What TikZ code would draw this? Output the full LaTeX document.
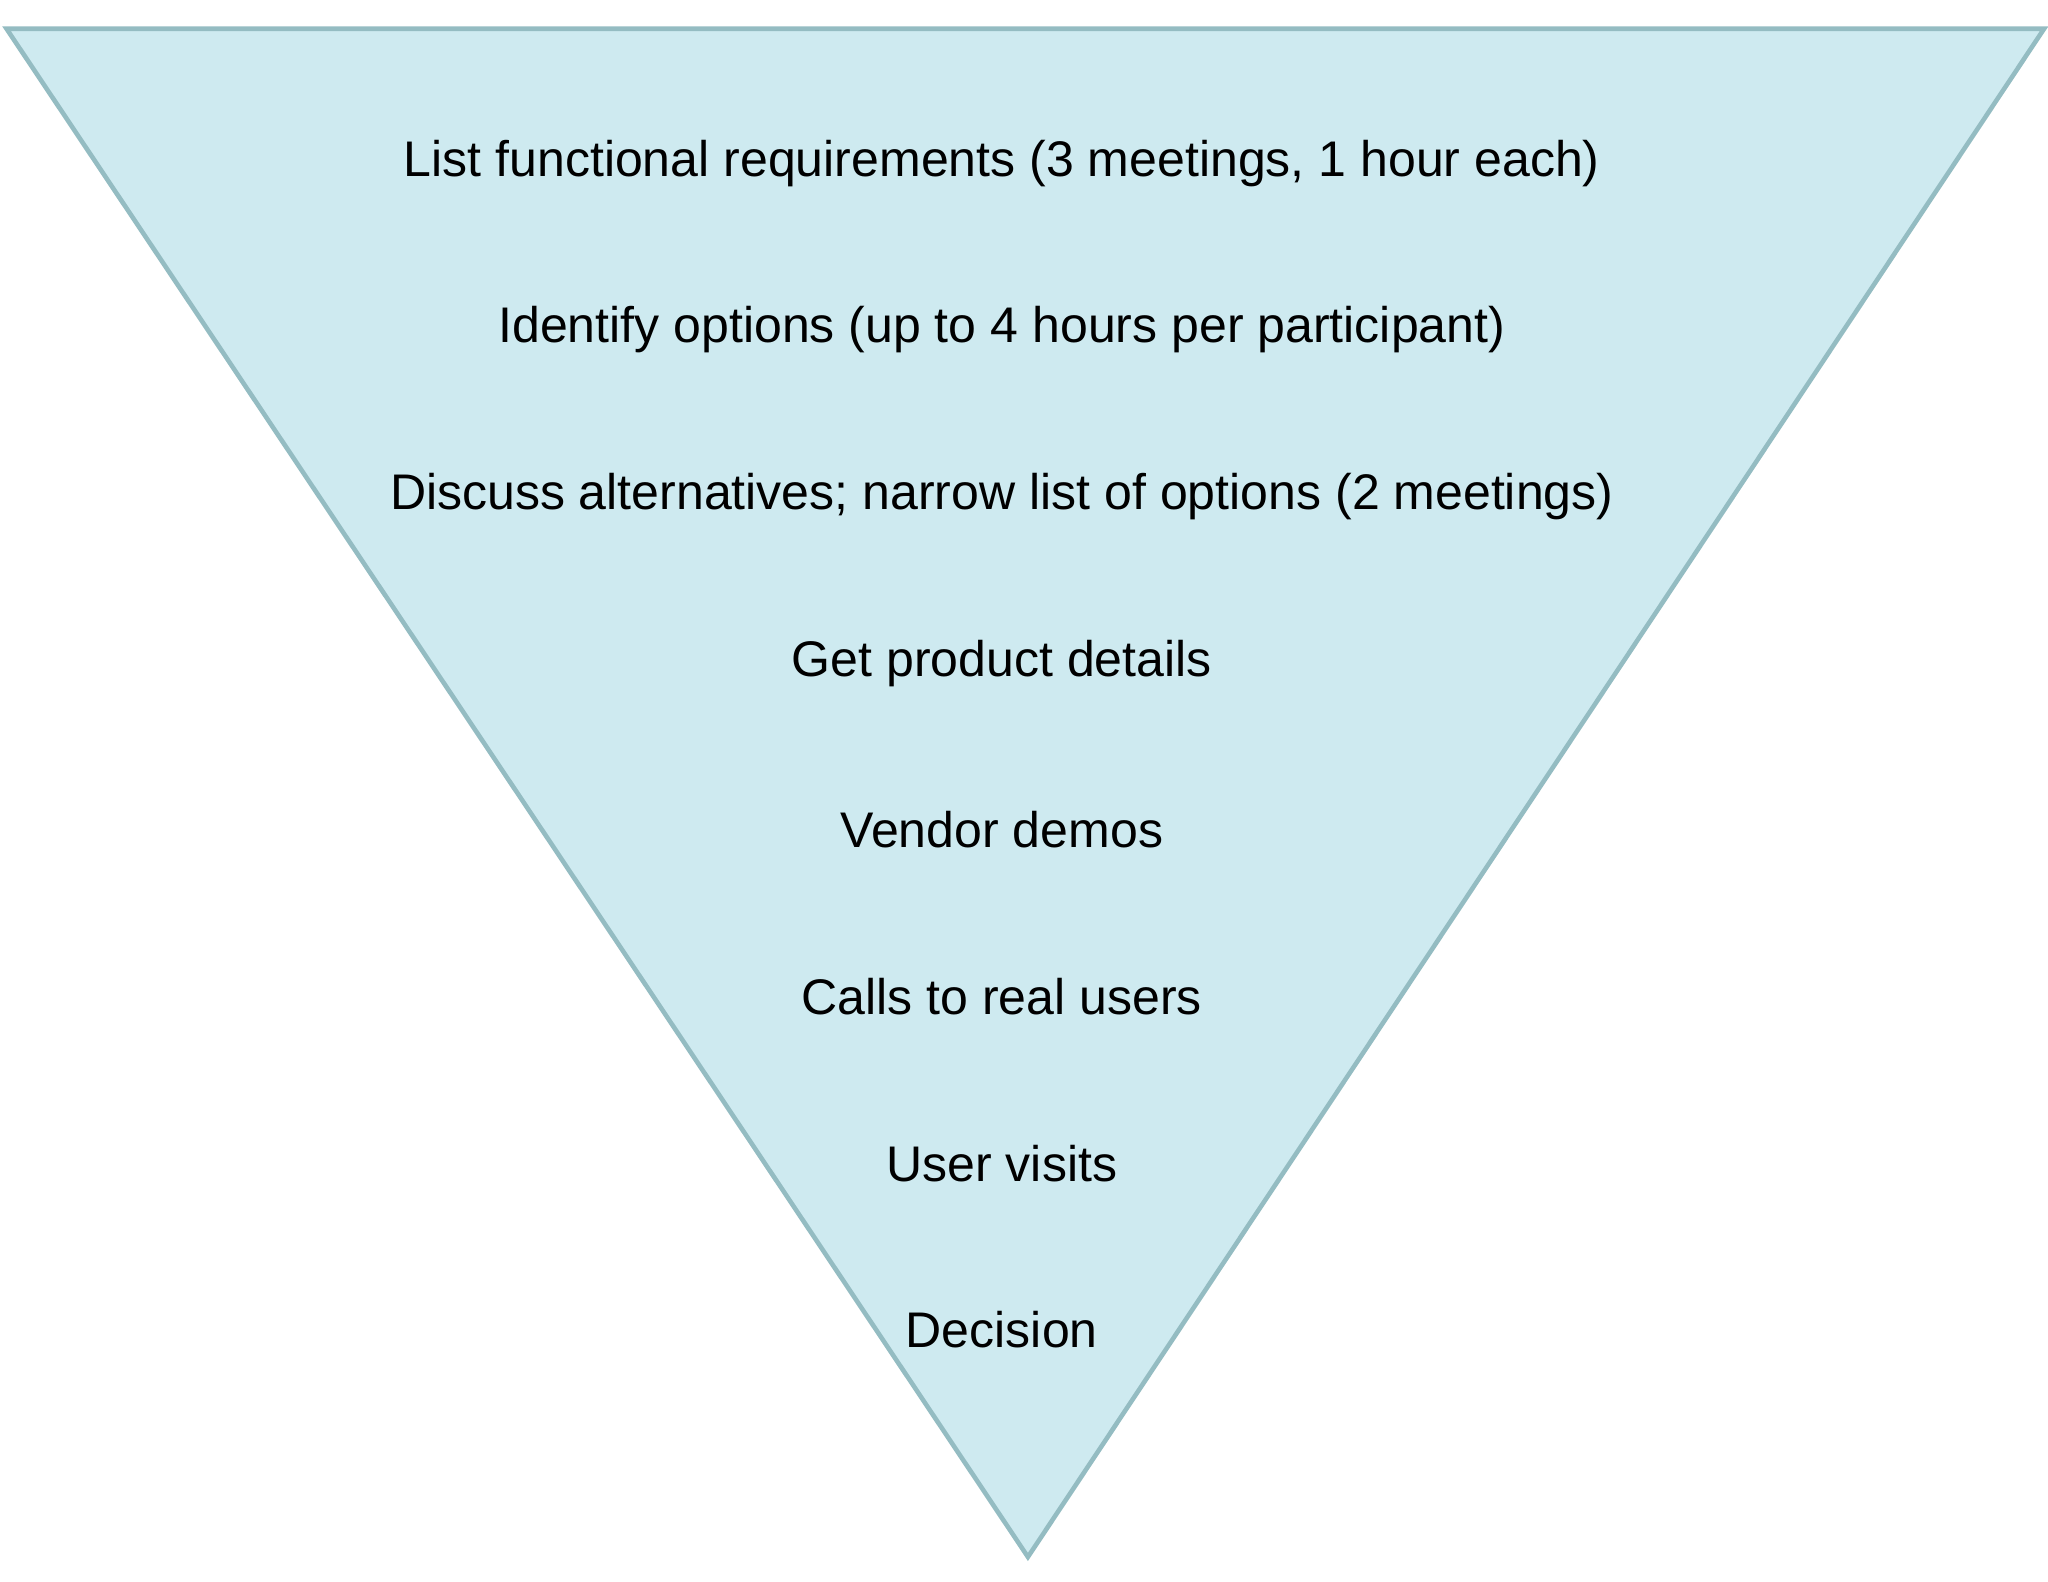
\documentclass[tikz,border=0pt]{standalone}
\usepackage{fontspec}
\setmainfont{Liberation Sans}
\definecolor{funnelfill}{RGB}{206,234,240}
\definecolor{funneledge}{RGB}{148,188,194}
\begin{document}
\begin{tikzpicture}[node distance=1.276cm,
  stage/.style={font=\fontsize{10.9}{13}\selectfont, text=black}]
  \useasboundingbox (0,0) rectangle (15.68,12.11);
  % funnel
  \coordinate (TL) at (0.05,11.89);
  \coordinate (TR) at (15.65,11.89);
  \coordinate (Tip) at (7.87,0.19);
  \filldraw[fill=funnelfill, draw=funneledge, line width=1pt] (TL) -- (TR) -- (Tip) -- cycle;

  \node (Req) [stage] at (7.67,10.86) {List functional requirements (3 meetings, 1 hour each)};
  \node (Opt) [stage, below of=Req] {Identify options (up to 4 hours per participant)};
  \node (Alt) [stage, below of=Opt] {Discuss alternatives; narrow list of options (2 meetings)};
  \node (Details) [stage, below of=Alt] {Get product details};
  \node (Demos) [stage, below of=Details] {Vendor demos};
  \node (Calls) [stage, below of=Demos] {Calls to real users};
  \node (Visits) [stage, below of=Calls] {User visits};
  \node (Decision) [stage, below of=Visits] {Decision};
\end{tikzpicture}
\end{document}
